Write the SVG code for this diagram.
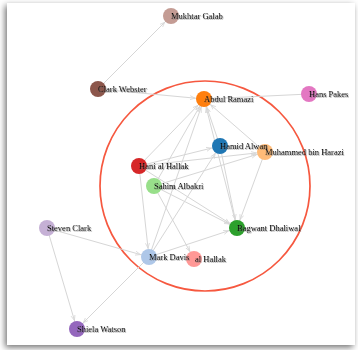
<svg xmlns="http://www.w3.org/2000/svg" width="358" height="350" viewBox="0 0 358 350">
<defs>
<filter id="shadow" x="-10%" y="-10%" width="120%" height="120%">
<feDropShadow dx="-2" dy="2.5" stdDeviation="3" flood-color="#000" flood-opacity="0.55"/>
</filter>
<filter id="tshadow" x="-5%" y="-30%" width="115%" height="170%">
<feDropShadow dx="0.8" dy="0.8" stdDeviation="0.6" flood-color="#666" flood-opacity="0.7"/>
</filter>
<marker id="arr" viewBox="0 -3 6 6" refX="14" refY="0" markerWidth="6" markerHeight="6" markerUnits="userSpaceOnUse" orient="auto">
<path d="M0,-2L5,0L0,2" fill="none" stroke="#d6d6d6" stroke-width="0.8"/>
</marker>
</defs>
<style>
.edge{stroke:#d6d6d6;stroke-width:1;fill:none;marker-end:url(#arr)}
.node circle{stroke:none}
.node text{font-family:"Liberation Serif","Times New Roman",serif;font-size:8.5px;fill:#000;filter:url(#tshadow)}
.hull{fill:none;stroke:#f6583f;stroke-width:1.7}
</style>
<rect x="7" y="3" width="348" height="342" fill="#fff" filter="url(#shadow)"/>
<circle class="hull" cx="205" cy="186" r="105"/>
<g id="connectors">
<line class="edge" x1="98" y1="89" x2="171" y2="16"/>
<line class="edge" x1="98" y1="89" x2="204" y2="99"/>
<line class="edge" x1="309" y1="94" x2="204" y2="99"/>
<line class="edge" x1="139" y1="166" x2="204" y2="99"/>
<line class="edge" x1="154" y1="186" x2="204" y2="99"/>
<line class="edge" x1="149" y1="257" x2="204" y2="99"/>
<line class="edge" x1="220" y1="146" x2="204" y2="99"/>
<line class="edge" x1="237" y1="228" x2="204" y2="99"/>
<line class="edge" x1="265" y1="152" x2="204" y2="99"/>
<line class="edge" x1="139" y1="166" x2="220" y2="146"/>
<line class="edge" x1="139" y1="166" x2="265" y2="152"/>
<line class="edge" x1="154" y1="186" x2="265" y2="152"/>
<line class="edge" x1="139" y1="166" x2="149" y2="257"/>
<line class="edge" x1="139" y1="166" x2="237" y2="228"/>
<line class="edge" x1="154" y1="186" x2="237" y2="228"/>
<line class="edge" x1="154" y1="186" x2="194" y2="259"/>
<line class="edge" x1="149" y1="257" x2="220" y2="146"/>
<line class="edge" x1="149" y1="257" x2="237" y2="228"/>
<line class="edge" x1="220" y1="146" x2="237" y2="228"/>
<line class="edge" x1="265" y1="152" x2="237" y2="228"/>
<line class="edge" x1="47" y1="228" x2="149" y2="257"/>
<line class="edge" x1="47" y1="228" x2="77" y2="329"/>
<line class="edge" x1="149" y1="257" x2="77" y2="329"/>
</g>
<g id="n-mukhtar" class="node"><circle cx="171" cy="16" r="8" fill="#c49c94"/><text x="171" y="19">Mukhtar Galab</text></g>
<g id="n-clark" class="node"><circle cx="98" cy="89" r="8" fill="#8c564b"/><text x="98" y="92">Clark Webster</text></g>
<g id="n-abdul" class="node"><circle cx="204" cy="99" r="8" fill="#ff7f0e"/><text x="204" y="102">Abdul Ramazi</text></g>
<g id="n-hans" class="node"><circle cx="309" cy="94" r="8" fill="#e377c2"/><text x="309" y="97">Hans Pakes</text></g>
<g id="n-muhammed" class="node"><circle cx="265" cy="152" r="8" fill="#ffbb78"/><text x="265" y="155">Muhammed bin Harazi</text></g>
<g id="n-hamid" class="node"><circle cx="220" cy="146" r="8" fill="#1f77b4"/><text x="220" y="149">Hamid Alwan</text></g>
<g id="n-hani" class="node"><circle cx="139" cy="166" r="8" fill="#d62728"/><text x="139" y="169">Hani al Hallak</text></g>
<g id="n-sahim" class="node"><circle cx="154" cy="186" r="8" fill="#98df8a"/><text x="154" y="189">Sahim Albakri</text></g>
<g id="n-bagwant" class="node"><circle cx="237" cy="228" r="8" fill="#2ca02c"/><text x="237" y="231">Bagwant Dhaliwal</text></g>
<g id="n-steven" class="node"><circle cx="47" cy="228" r="8" fill="#c5b0d5"/><text x="47" y="231">Steven Clark</text></g>
<g id="n-alhallak" class="node"><circle cx="194" cy="259" r="8" fill="#ff9896"/><text x="195" y="262">al Hallak</text></g>
<g id="n-mark" class="node"><circle cx="149" cy="257" r="8" fill="#aec7e8"/><text x="149" y="260">Mark Davis</text></g>
<g id="n-shiela" class="node"><circle cx="77" cy="329" r="8" fill="#9467bd"/><text x="77" y="332">Shiela Watson</text></g>
</svg>
